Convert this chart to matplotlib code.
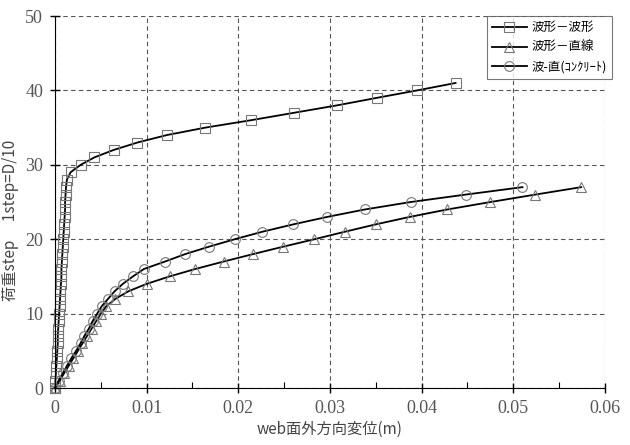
import matplotlib
matplotlib.use("Agg")
from matplotlib import pyplot as plt
from matplotlib.ticker import MultipleLocator

# 波形-波形 (squares), one marker per load step
sq_y = list(range(0, 42))
sq_x = [0.0, 0.00005, 0.0001, 0.00015, 0.0002, 0.00025, 0.0003, 0.0003, 0.00035, 0.0004,
        0.00045, 0.0005, 0.00055, 0.0006, 0.00065, 0.0007, 0.0007, 0.00075, 0.0008, 0.00085,
        0.0009, 0.00095, 0.001, 0.00105, 0.0011, 0.0011, 0.00115, 0.0012, 0.0013, 0.0017,
        0.0028, 0.0043, 0.0064, 0.0090, 0.0122, 0.0164, 0.0214, 0.0261, 0.0308, 0.0351,
        0.0395, 0.0437]

# 波形-直線 (triangles)
tri_y = list(range(0, 28))
tri_x = [0.0, 0.0005, 0.001, 0.0015, 0.002, 0.0025, 0.003, 0.0035, 0.004, 0.0045,
         0.005, 0.0056, 0.0066, 0.0080, 0.0100, 0.0125, 0.0153, 0.0184, 0.0216, 0.0249,
         0.0283, 0.0316, 0.0350, 0.0387, 0.0428, 0.0475, 0.0524, 0.0574]

# 波-直(コンクリート) (circles)
cir_y = list(range(0, 28))
cir_x = [0.0, 0.0004, 0.0009, 0.0013, 0.0018, 0.0023, 0.0028, 0.0032, 0.0037, 0.0041,
         0.0046, 0.0051, 0.0058, 0.0065, 0.0074, 0.0085, 0.0097, 0.0120, 0.0142, 0.0168,
         0.0196, 0.0226, 0.0260, 0.0297, 0.0338, 0.0388, 0.0448, 0.0510]

labels = ["波形－波形", "波形－直線", "波-直(ｺﾝｸﾘｰﾄ)"]
xticks = [0, 0.01, 0.02, 0.03, 0.04, 0.05, 0.06]
xtick_labels = ["0", "0.01", "0.02", "0.03", "0.04", "0.05", "0.06"]
yticks = [0, 10, 20, 30, 40, 50]
ytick_labels = ["0", "10", "20", "30", "40", "50"]

cjk = ["Noto Sans CJK JP", "DejaVu Sans"]
serif = "Liberation Serif"

fig = plt.figure(figsize=(6.3, 4.45), dpi=100)
ax = fig.add_axes([0.0873, 0.128, 0.873, 0.836])

style = dict(color="black", linewidth=1.3, markerfacecolor="none",
             markeredgecolor="#777777", markeredgewidth=0.8, clip_on=False)
ax.plot(sq_x, sq_y, marker="s", markersize=6.5, label=labels[0], **style)
ax.plot(tri_x, tri_y, marker="^", markersize=7, label=labels[1], **style)
ax.plot(cir_x, cir_y, marker="o", markersize=7, label=labels[2], **style)

ax.set_xlim(0, 0.06)
ax.set_ylim(0, 50)
ax.set_xticks(xticks)
ax.set_xticklabels(xtick_labels, family=serif)
ax.xaxis.set_minor_locator(MultipleLocator(0.005))
ax.set_yticks(yticks)
ax.set_yticklabels(ytick_labels, family=serif)

ax.grid(True, which="major", linestyle=(0, (4, 3)), color="#555555", linewidth=0.8)
ax.spines["top"].set_visible(False)
ax.spines["right"].set_visible(False)
ax.tick_params(axis="both", which="major", direction="inout", length=7, width=1,
               labelsize=13, labelcolor="#555555", pad=5)
ax.tick_params(axis="x", which="minor", direction="in", length=4, width=0.8)

ax.set_xlabel("web面外方向変位(m)", family=cjk, fontsize=11, color="#444444", labelpad=3)
ax.set_ylabel("荷重step　 1step=D/10", family=cjk, fontsize=11, color="#444444")
ax.yaxis.set_label_coords(-0.066, 0.45)

leg = ax.legend(loc="upper right", bbox_to_anchor=(1.013, 1.0), prop={"family": cjk, "size": 9},
                frameon=True, fancybox=False, edgecolor="#555555", handlelength=2.8,
                handletextpad=0.4, borderpad=0.4, labelspacing=0.55, borderaxespad=0)
leg.get_frame().set_linewidth(0.8)

plt.savefig("out.png", dpi=100)
plt.close()
